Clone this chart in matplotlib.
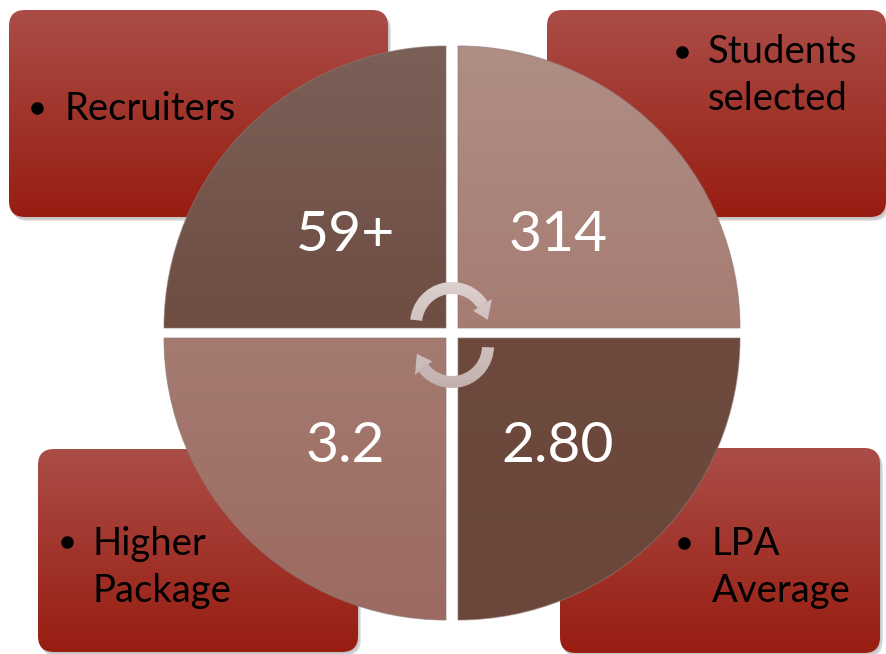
import matplotlib
matplotlib.use("Agg")
import matplotlib.pyplot as plt
import numpy as np
from matplotlib.patches import FancyBboxPatch, Wedge, Polygon
from matplotlib.colors import to_rgb

plt.rcParams['font.family'] = ['Lato', 'DejaVu Sans']

# figures shown in the four quadrants (TL, TR, BL, BR)
values = ["59+", "314", "3.2", "2.80"]
# captions in the four corner boxes
labels = [["Recruiters"], ["Students", "selected"], ["Higher", "Package"], ["LPA", "Average"]]

W, H = 886, 654
fig = plt.figure(figsize=(W / 100, H / 100), dpi=100)
ax = fig.add_axes([0, 0, 1, 1])
ax.set_xlim(0, W)
ax.set_ylim(H, 0)
ax.axis("off")


def gradient(patch, x0, x1, y0, y1, top, bottom, z):
    c0, c1 = np.array(to_rgb(top)), np.array(to_rgb(bottom))
    t = np.linspace(0, 1, 256)[:, None]
    img = (c0 * (1 - t) + c1 * t)[:, None, :]
    im = ax.imshow(img, extent=(x0, x1, y1, y0), aspect="auto",
                   interpolation="bilinear", zorder=z)
    im.set_clip_path(patch)


# corner boxes: (x0, y0, x1, y1)
boxes = [(9, 10, 388, 217), (547, 10, 886, 217), (38, 449, 358, 652), (560, 448, 880, 653)]
for x0, y0, x1, y1 in boxes:
    for k, a in enumerate([0.06, 0.08, 0.10]):
        sh = FancyBboxPatch((x0 + 1 + k, y0 + 2 + k), x1 - x0, y1 - y0,
                            boxstyle="round,pad=0,rounding_size=16",
                            fc="#000000", ec="none", alpha=a, zorder=1)
        ax.add_patch(sh)
    box = FancyBboxPatch((x0, y0), x1 - x0, y1 - y0,
                         boxstyle="round,pad=0,rounding_size=16",
                         fc="none", ec="none", zorder=2)
    ax.add_patch(box)
    gradient(box, x0, x1, y0, y1, "#aa4d47", "#981d11", 2)

# quadrants of the circle
R = 282
quads = [((446, 328), 180, 270, "#7b6057", "#623a2e"),
         ((458, 328), 270, 360, "#b08e85", "#9c6a60"),
         ((446, 338), 90, 180, "#ad8b82", "#9c6a60"),
         ((458, 338), 0, 90, "#704d41", "#6b473b")]
for (cx, cy), t1, t2, top, bot in quads:
    w = Wedge((cx, cy), R, t1, t2, fc="none", ec="none", zorder=3)
    ax.add_patch(w)
    gradient(w, cx - R, cx + R, cy - R, cy + R, top, bot, 3)
    ax.add_patch(Wedge((cx, cy), R, t1, t2, fc="none", ec="#8a7a76",
                       lw=0.8, alpha=0.6, zorder=4))


def arc_arrow(cx, cy, r_out, width, a_start, a_end, head_len, head_w):
    r_mid = r_out - width / 2
    tail = Wedge((cx, cy), r_out, a_start, a_end, width=width,
                 fc="none", ec="none", zorder=5)
    ax.add_patch(tail)
    gradient(tail, cx - r_out, cx + r_out, cy - r_out, cy + r_out,
             "#dcd1cf", "#c2b0ad", 5)
    th = np.radians(a_end)
    base_in = (cx + (r_mid - head_w / 2) * np.cos(th), cy + (r_mid - head_w / 2) * np.sin(th))
    base_out = (cx + (r_mid + head_w / 2) * np.cos(th), cy + (r_mid + head_w / 2) * np.sin(th))
    th2 = th + head_len / r_mid
    tip = (cx + r_mid * np.cos(th2), cy + r_mid * np.sin(th2))
    head = Polygon([base_in, base_out, tip], closed=True, fc="none", ec="none", zorder=5)
    ax.add_patch(head)
    gradient(head, cx - r_out - 20, cx + r_out + 20, cy - r_out - 20, cy + r_out + 20,
             "#dcd1cf", "#c2b0ad", 5)


arc_arrow(452, 324, 42, 12, 186, 328, 16, 22)
arc_arrow(452, 346, 42, 12, 2, 142, 16, 22)

# values in the quadrants
val_pos = [(346, 251), (558, 251), (345, 462), (558, 462)]
for v, (x, y) in zip(values, val_pos):
    ax.text(x, y, v, color="white", fontsize=41, ha="center", va="baseline", zorder=6)

# captions
lab_pos = [(37, 108, 64, 120), (682, 52, 708, 63), (67, 542, 93, 555), (684, 543, 712, 555)]
for lines, (bx, by, tx, ty) in zip(labels, lab_pos):
    ax.plot(bx, by, "o", color="black", ms=8, zorder=6)
    for i, line in enumerate(lines):
        ax.text(tx, ty + 47 * i, line, color="black", fontsize=27.5,
                ha="left", va="baseline", zorder=6)

fig.savefig("out.png", dpi=100)
